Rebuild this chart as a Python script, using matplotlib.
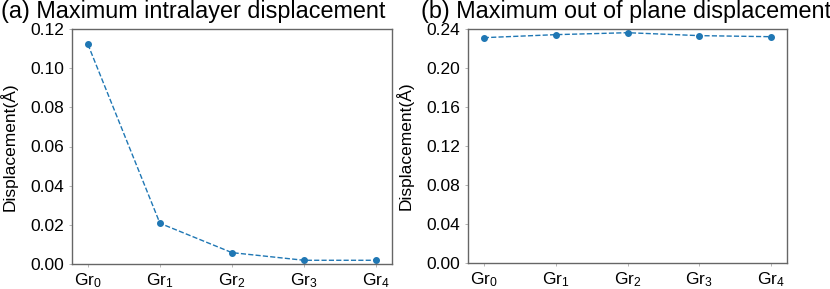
import matplotlib
matplotlib.use("Agg")
import matplotlib.pyplot as plt

categories = ["Gr$_0$", "Gr$_1$", "Gr$_2$", "Gr$_3$", "Gr$_4$"]
intralayer = [0.1122, 0.0208, 0.0058, 0.0019, 0.0019]
out_of_plane = [0.2311, 0.2342, 0.2362, 0.2332, 0.2321]
yticks_a = [0.00, 0.02, 0.04, 0.06, 0.08, 0.10, 0.12]
yticks_b = [0.00, 0.04, 0.08, 0.12, 0.16, 0.20, 0.24]

plt.rcParams['font.family'] = ['Liberation Sans', 'DejaVu Sans']
plt.rcParams['mathtext.fontset'] = 'custom'
plt.rcParams['mathtext.rm'] = 'Liberation Sans'
plt.rcParams['mathtext.it'] = 'Liberation Sans'

fig = plt.figure(figsize=(8.3, 2.89), dpi=100)
W, H = 830, 289

def make_ax(x0, x1, y0, y1):
    return fig.add_axes([x0 / W, (H - y1) / H, (x1 - x0) / W, (y1 - y0) / H])

ax1 = make_ax(72, 392, 29, 264)
ax2 = make_ax(468, 787, 29, 263)

x = list(range(len(categories)))
for ax, vals, ticks, top, title, tx in [
    (ax1, intralayer, yticks_a, 0.12, "(a) Maximum intralayer displacement", 1),
    (ax2, out_of_plane, yticks_b, 0.24, "(b) Maximum out of plane displacement", 421),
]:
    ax.plot(x, vals, linestyle='--', color='#1f77b4', marker='o', markersize=4, linewidth=1.0)
    ax.set_xlim(-0.22, 4.22)
    ax.set_ylim(0, top)
    ax.set_yticks(ticks)
    ax.set_yticklabels([f"{t:.2f}" for t in ticks])
    ax.set_xticks(x)
    ax.set_xticklabels(categories)
    ax.tick_params(axis='both', labelsize=12.5, length=2.5, width=0.6, color='#aaaaaa', pad=3)
    for s in ax.spines.values():
        s.set_color('#666666')
        s.set_linewidth(1.0)
    ax.set_ylabel("Displacement(Å)", fontsize=12.5, labelpad=9)
    fig.text(tx / W, 1 - 18 / H, title, fontsize=16.8, ha='left', va='baseline')

fig.savefig("out.png", dpi=100)
